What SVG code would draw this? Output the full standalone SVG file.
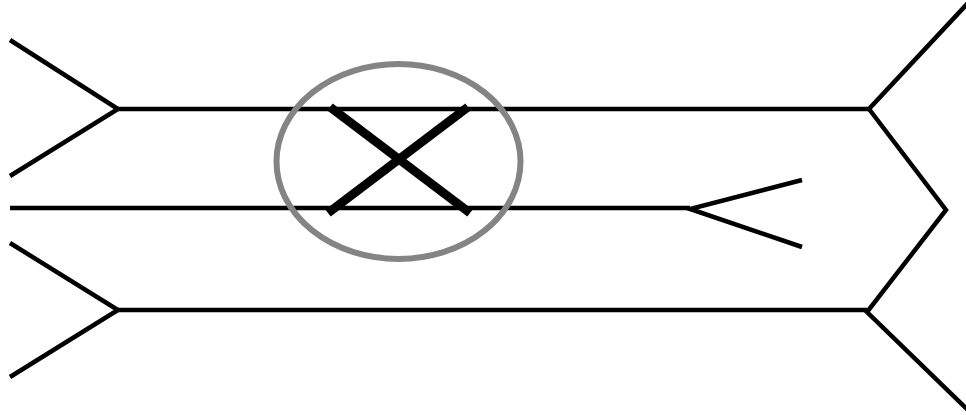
<svg xmlns="http://www.w3.org/2000/svg" width="966" height="415" viewBox="0 0 966 415">
<style>
.ln{fill:none;stroke:#000;stroke-width:4.5;stroke-linejoin:miter;stroke-linecap:butt}
.x{fill:none;stroke:#000;stroke-width:9;stroke-linecap:butt}
.ring{fill:none;stroke:#848484;stroke-width:6}
</style>
<rect width="966" height="415" fill="#fff"/>
<g id="connectors">
<polyline class="ln" points="10,40 118,109 10,176"/>
<polyline class="ln" points="10,243 118,310 10,377"/>
<line class="ln" x1="118" y1="109" x2="869" y2="109"/>
<line class="ln" x1="118" y1="310" x2="867" y2="310"/>
<polyline class="ln" points="968,3 869,109 946,210 867,312 968,410"/>
<line class="ln" x1="10" y1="208" x2="690" y2="208"/>
<polyline class="ln" points="802,180 690,209 802,247"/>
</g>
<g id="crossover">
<line class="x" x1="330" y1="107" x2="470" y2="213"/>
<line class="x" x1="468" y1="107" x2="328" y2="213"/>
</g>
<g id="highlight">
<ellipse class="ring" cx="398.5" cy="161.5" rx="122" ry="97.5"/>
</g>
</svg>
